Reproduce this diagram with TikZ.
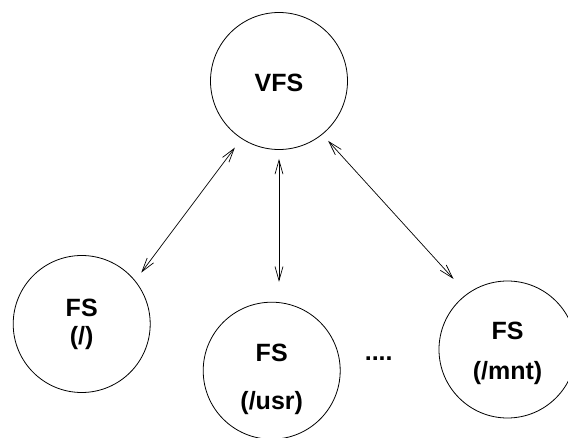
\documentclass[tikz,border=0pt]{standalone}
\usepackage{fontspec}
\setmainfont{Liberation Sans}
\usepackage{tikz}
\usetikzlibrary{arrows.meta,positioning}

\tikzstyle{fs} = [circle, draw=black, line width=0.8pt, text=black, align=center, font=\bfseries\fontsize{25}{28}\selectfont, minimum size=137pt, inner sep=0pt]
\tikzstyle{dots} = [draw=none, text=black, font=\bfseries\fontsize{25}{28}\selectfont, inner sep=0pt]
\tikzstyle{link} = [draw, line width=0.7pt, >={Straight Barb[length=14pt,width=8pt]}, <->]

\begin{document}
\begin{tikzpicture}[x=1pt, y=-1pt]
\useasboundingbox (0,0) rectangle (568,438);

% file systems =============================
\node[fs, text height=22pt] (vfs) at (279,81) {VFS};
\node[fs] (fsroot) at (81.7,324) {FS\\(/)};
\node[fs, text height=82pt] (fsusr) at (271.7,370.7) {FS\\[20pt](/usr)};
\node[fs, text height=66pt] (fsmnt) at (507.5,349.5) {FS\\[12pt](/mnt)};
\node[dots] (more) at (378.7,358.7) {....};

% edges
\path[link, shorten <=11pt, shorten >=10pt] (vfs.237.8) -- (fsroot.39.9);
\path[link, shorten <=9pt, shorten >=20pt] (vfs.south) -- (vfs.south |- fsusr.north);
\path[link, shorten <=8.5pt, shorten >=20pt] (vfs.309.2) -- (fsmnt.126.9);

\end{tikzpicture}
\end{document}
